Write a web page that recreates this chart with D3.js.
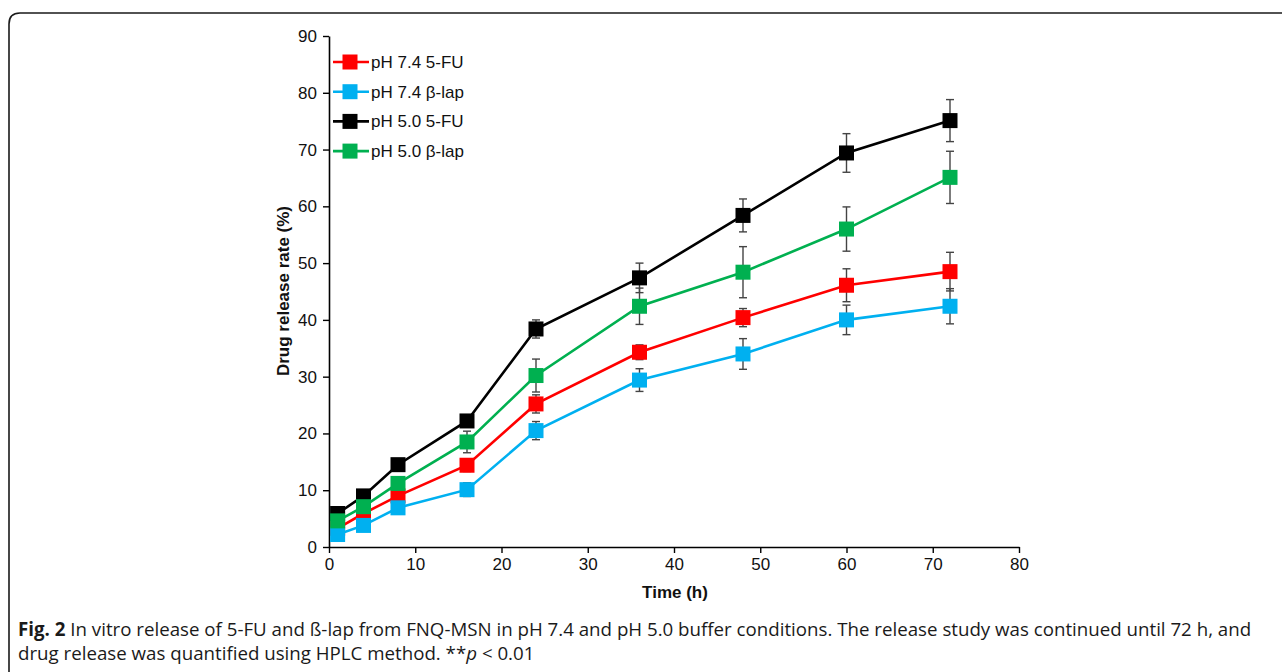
<!DOCTYPE html>
<html>
<head>
<meta charset="utf-8">
<script src="https://cdn.jsdelivr.net/npm/d3@7/dist/d3.min.js"></script>
<style>
  html, body { margin: 0; padding: 0; background: #fff; }
  svg { display: block; }
</style>
</head>
<body>
<svg id="fig" width="1282" height="672"></svg>
<script>
// Sampling times (h)
const times = [1, 4, 8, 16, 24, 36, 48, 60, 72];

// Cumulative release (%) and standard deviations per condition
const seriesNames = ["pH 7.4 5-FU", "pH 7.4 β-lap", "pH 5.0 5-FU", "pH 5.0 β-lap"];
const ph74FU   = [3.3, 5.9, 9.0, 14.4, 25.2, 34.3, 40.4, 46.1, 48.5];
const ph74Lap  = [2.2, 3.8, 6.9, 10.1, 20.5, 29.4, 34.0, 40.0, 42.4];
const ph50FU   = [5.9, 9.0, 14.5, 22.2, 38.4, 47.4, 58.4, 69.4, 75.1];
const ph50Lap  = [4.6, 7.1, 11.2, 18.5, 30.2, 42.4, 48.4, 56.0, 65.1];
const ph74FUsd  = [0.4, 0.6, 0.8, 1.1, 1.6, 1.3, 1.6, 2.9, 3.4];
const ph74Lapsd = [0.4, 0.5, 0.7, 1.2, 1.6, 2.0, 2.7, 2.6, 3.1];
const ph50FUsd  = [0.5, 0.6, 0.8, 0.8, 1.6, 2.6, 2.9, 3.4, 3.7];
const ph50Lapsd = [0.5, 0.6, 1.0, 1.9, 2.9, 3.2, 4.5, 3.9, 4.6];
const seriesColors = ["#ff0000", "#00b0f0", "#000000", "#00b050"];

const xTicks = [0, 10, 20, 30, 40, 50, 60, 70, 80];
const yTicks = [0, 10, 20, 30, 40, 50, 60, 70, 80, 90];

const captionBold = "Fig. 2";
const captionLine1 = " In vitro release of 5-FU and ß-lap from FNQ-MSN in pH 7.4 and pH 5.0 buffer conditions. The release study was continued until 72 h, and";
const captionLine2a = "drug release was quantified using HPLC method. **";
const captionLine2b = "p";
const captionLine2c = " < 0.01";

const series = [
  { name: seriesNames[0], values: ph74FU,  sd: ph74FUsd,  color: seriesColors[0] },
  { name: seriesNames[1], values: ph74Lap, sd: ph74Lapsd, color: seriesColors[1] },
  { name: seriesNames[2], values: ph50FU,  sd: ph50FUsd,  color: seriesColors[2] },
  { name: seriesNames[3], values: ph50Lap, sd: ph50Lapsd, color: seriesColors[3] }
];

const svg = d3.select("#fig");
const font = "Liberation Sans, Arial, sans-serif";

// Figure frame with rounded top-left corner
const fx = 9, fy = 13, r = 11;
svg.append("path")
  .attr("d", `M${fx},700 L${fx},${fy + r} Q${fx},${fy} ${fx + r},${fy} L1300,${fy}`)
  .attr("fill", "none")
  .attr("stroke", "#1a1a1a")
  .attr("stroke-width", 1.6);

const x = d3.scaleLinear().domain([0, 80]).range([329, 1019]);
const y = d3.scaleLinear().domain([0, 90]).range([547, 36]);

// Axes
const xAxis = svg.append("g")
  .attr("transform", `translate(0,${y(0)})`)
  .call(d3.axisBottom(x).tickValues(xTicks).tickSize(6).tickPadding(5).tickSizeOuter(0));
const yAxis = svg.append("g")
  .attr("transform", `translate(${x(0)},0)`)
  .call(d3.axisLeft(y).tickValues(yTicks).tickSize(6).tickPadding(6).tickSizeOuter(0));

[xAxis, yAxis].forEach(g => {
  g.select(".domain").attr("stroke", "#000").attr("stroke-width", 1.6);
  g.selectAll(".tick line").attr("stroke", "#000").attr("stroke-width", 1.4);
  g.selectAll(".tick text")
    .attr("fill", "#111")
    .style("font-family", font)
    .style("font-size", "17px");
});

// Axis titles
svg.append("text")
  .attr("x", 675).attr("y", 598)
  .attr("text-anchor", "middle")
  .style("font-family", font).style("font-size", "17px").style("font-weight", "bold")
  .attr("fill", "#111")
  .text("Time (h)");

svg.append("text")
  .attr("transform", `translate(289,291) rotate(-90)`)
  .attr("text-anchor", "middle")
  .style("font-family", font).style("font-size", "17px").style("font-weight", "bold")
  .attr("fill", "#111")
  .text("Drug release rate (%)");

// Data series
const line = d3.line().x((d, i) => x(times[i])).y(d => y(d));
const ms = 15, cap = 4;

series.forEach(s => {
  const g = svg.append("g");
  g.append("path")
    .attr("d", line(s.values))
    .attr("fill", "none")
    .attr("stroke", s.color)
    .attr("stroke-width", 2.6);

  const eb = g.append("g").attr("stroke", "#444").attr("stroke-width", 1.4);
  s.values.forEach((v, i) => {
    const cx = x(times[i]);
    const y1 = y(v + s.sd[i]), y2 = y(v - s.sd[i]);
    eb.append("line").attr("x1", cx).attr("x2", cx).attr("y1", y1).attr("y2", y2);
    eb.append("line").attr("x1", cx - cap).attr("x2", cx + cap).attr("y1", y1).attr("y2", y1);
    eb.append("line").attr("x1", cx - cap).attr("x2", cx + cap).attr("y1", y2).attr("y2", y2);
  });

  g.selectAll("rect")
    .data(s.values)
    .join("rect")
    .attr("x", (d, i) => x(times[i]) - ms / 2)
    .attr("y", d => y(d) - ms / 2)
    .attr("width", ms).attr("height", ms)
    .attr("fill", s.color);
});

// Legend
const legend = svg.append("g");
series.forEach((s, i) => {
  const ly = 62 + i * 29.7;
  legend.append("line")
    .attr("x1", 333).attr("x2", 369).attr("y1", ly).attr("y2", ly)
    .attr("stroke", s.color).attr("stroke-width", 2.6);
  legend.append("rect")
    .attr("x", 350 - ms / 2).attr("y", ly - ms / 2)
    .attr("width", ms).attr("height", ms)
    .attr("fill", s.color);
  legend.append("text")
    .attr("x", 371).attr("y", ly + 6)
    .style("font-family", font).style("font-size", "17px")
    .attr("fill", "#111")
    .text(s.name);
});

// Caption, condensed horizontally to the column width
const capFont = "Open Sans, Noto Sans, sans-serif";
const capGroup = svg.append("g");
const cap1 = capGroup.append("text")
  .attr("x", 0).attr("y", 636)
  .style("font-family", capFont).style("font-size", "19px")
  .attr("fill", "#1a1a1a");
cap1.append("tspan").style("font-weight", "bold").text(captionBold);
cap1.append("tspan").text(captionLine1);

const cap2 = capGroup.append("text")
  .attr("x", 0).attr("y", 660)
  .style("font-family", capFont).style("font-size", "19px")
  .attr("fill", "#1a1a1a");
cap2.append("tspan").text(captionLine2a);
cap2.append("tspan").style("font-style", "italic").text(captionLine2b);
cap2.append("tspan").text(captionLine2c);

const natural1 = cap1.node().getComputedTextLength();
const ratio = (1252 - 18) / natural1;
capGroup.attr("transform", `translate(18,0) scale(${ratio},1)`);
</script>
</body>
</html>
